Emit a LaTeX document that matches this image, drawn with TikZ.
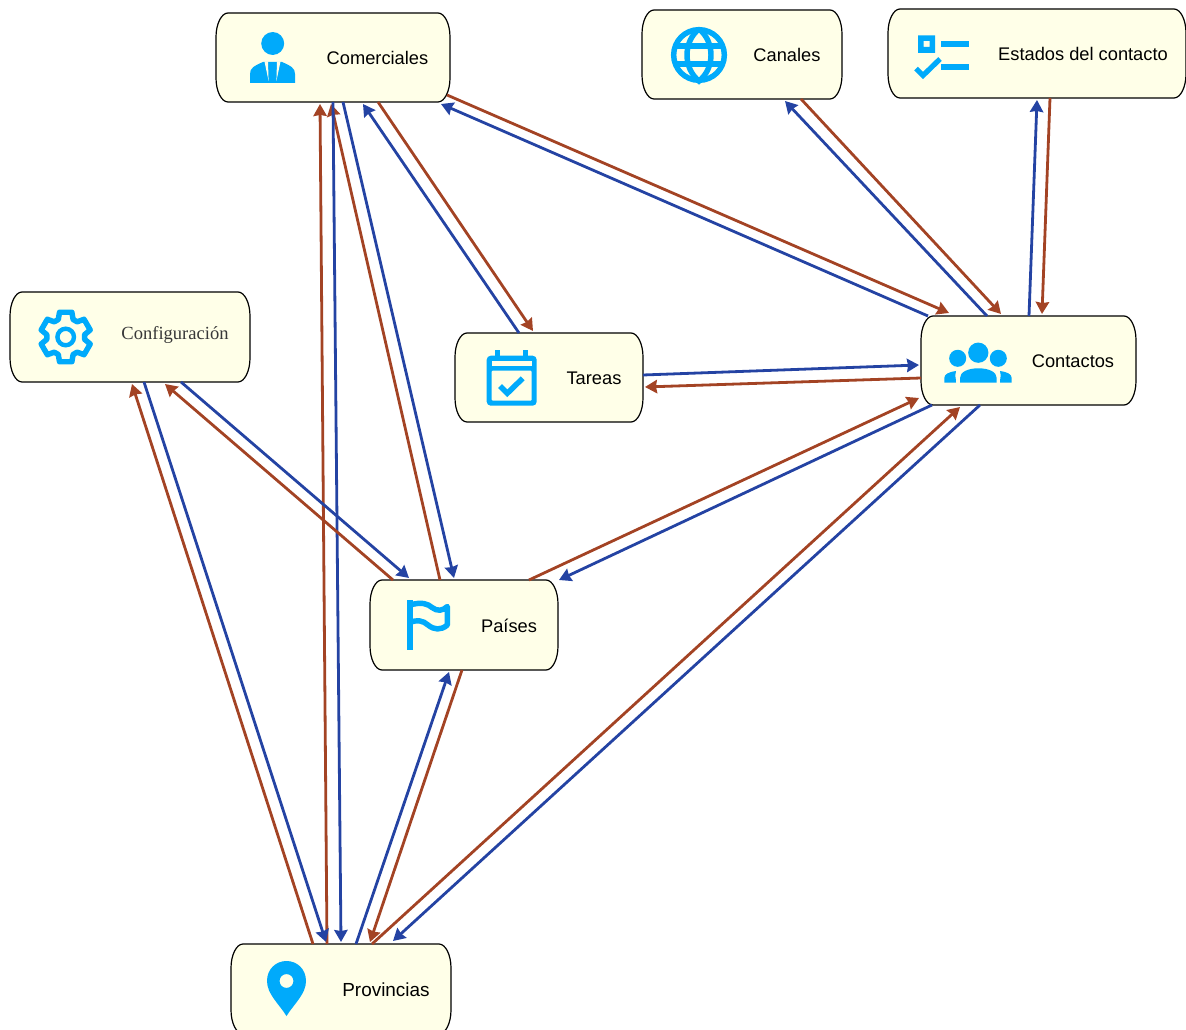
\documentclass[tikz,border=0pt]{standalone}
\usepackage{fontspec}
\setmainfont{Liberation Sans}
\newfontfamily\cfgfont{Liberation Serif}
\usetikzlibrary{arrows.meta,calc}
\definecolor{boxfill}{HTML}{FFFFE8}
\definecolor{iconc}{HTML}{00AAFB}
\definecolor{bluec}{HTML}{2443A3}
\definecolor{brownc}{HTML}{A34324}
\tikzset{
  boxanchor/.style={rectangle,draw=none,inner sep=0pt,outer sep=0pt},
  boxshape/.style={draw=black,fill=boxfill,line width=0.9pt},
  boxlabel/.style={inner sep=0pt,font=\fontsize{13.7}{16}\selectfont,text=black},
  conn/.style={line width=2.1pt,-{Stealth[length=9pt,width=10pt,inset=0.8pt]}},
  iconfill/.style={fill=iconc,draw=none},
  iconline/.style={draw=iconc,line width=4.1pt,fill=none}
}
\newcommand{\roundbox}[5]{%
  \node[boxanchor,minimum width={#4*0.75pt},minimum height={#5*0.75pt}] (#1) at ({#2+#4/2},{#3+#5/2}) {};
  \draw[boxshape] ({#2+12},#3) -- ({#2+#4-12},#3)
    .. controls ({#2+#4-5.4},#3) and ({#2+#4},{#3+11}) .. ({#2+#4},{#3+24})
    -- ({#2+#4},{#3+#5-24})
    .. controls ({#2+#4},{#3+#5-11}) and ({#2+#4-5.4},{#3+#5}) .. ({#2+#4-12},{#3+#5})
    -- ({#2+12},{#3+#5})
    .. controls ({#2+5.4},{#3+#5}) and (#2,{#3+#5-11}) .. (#2,{#3+#5-24})
    -- (#2,{#3+24})
    .. controls (#2,{#3+11}) and ({#2+5.4},#3) .. ({#2+12},#3) -- cycle;
}
\newcommand{\conn}[7]{%
  \draw[conn,draw=#1,fill=#1] ($(#2.north west)+(#3,#4)$) -- ($(#5.north west)+(#6,#7)$);
}
\begin{document}
\begin{tikzpicture}[x=0.75pt,y=-0.75pt]
\useasboundingbox (0,0) rectangle (1186,1030);
\clip (0,0) rectangle (1186,1030);

% boxes
\roundbox{com}{216}{13}{234}{89}
\roundbox{can}{642}{10}{200}{89}
\roundbox{est}{888}{9}{298}{89}
\roundbox{cfg}{10}{292}{240}{90}
\roundbox{tar}{455}{333}{188}{89}
\roundbox{con}{921}{316}{215}{89}
\roundbox{pai}{370}{580}{188}{90}
\roundbox{pro}{231}{944}{220}{90}

% labels
\node[boxlabel] (comT) at (377.5,58) {Comerciales};
\node[boxlabel] (canT) at (787,55) {Canales};
\node[boxlabel] (estT) at (1083,54) {Estados del contacto};
\node[boxlabel,font=\cfgfont\fontsize{13.9}{16}\selectfont,text=black!78] (cfgT) at (175,335) {Configuración};
\node[boxlabel] (tarT) at (594,378) {Tareas};
\node[boxlabel] (conT) at (1073,361) {Contactos};
\node[boxlabel] (paiT) at (509,626) {Países};
\node[boxlabel,font=\fontsize{14.2}{16}\selectfont] (proT) at (386,989.5) {Provincias};

% connectors
\conn{brownc}{com}{231}{82}{con}{28}{-3}
\conn{bluec}{con}{7}{0}{com}{225}{91}
\conn{brownc}{com}{162}{89}{tar}{78}{-2}
\conn{bluec}{tar}{64}{0}{com}{147}{91}
\conn{bluec}{com}{127}{89}{pai}{84}{-2}
\conn{brownc}{pai}{70}{0}{com}{115}{91}
\conn{brownc}{pro}{96}{0}{com}{104}{91}
\conn{bluec}{com}{117}{89}{pro}{110}{-2}
\conn{bluec}{cfg}{134}{90}{pro}{95}{-2}
\conn{brownc}{pro}{82}{0}{cfg}{122}{92}
\conn{bluec}{cfg}{171}{90}{pai}{39}{-2}
\conn{brownc}{pai}{23}{0}{cfg}{155}{92}
\conn{bluec}{pro}{125}{0}{pai}{79}{92}
\conn{brownc}{pai}{92}{90}{pro}{139}{-2}
\conn{brownc}{pai}{159}{0}{con}{-2}{82}
\conn{bluec}{con}{11}{89}{pai}{189}{0}
\conn{bluec}{con}{59}{89}{pro}{162}{-3}
\conn{brownc}{pro}{141}{0}{con}{39}{91}
\conn{bluec}{tar}{188}{42}{con}{-2}{49}
\conn{brownc}{con}{0}{62}{tar}{190}{54}
\conn{bluec}{con}{66}{0}{can}{143}{91}
\conn{brownc}{can}{159}{89}{con}{80}{-2}
\conn{bluec}{con}{108}{0}{est}{149}{91}
\conn{brownc}{est}{162}{89}{con}{121}{-2}

% icon: person
\fill[iconfill] (272.7,43.5) circle[radius=8.6pt];
\fill[iconfill] (250,83) -- (250,74) .. controls (250,68) and (254,66) .. (263,62)
  -- (282,62) .. controls (291,66) and (295,68) .. (295,74) -- (295,83) -- cycle;
\fill[boxfill] (264.5,61.5) -- (268,61.5) -- (268.6,81) -- cycle;
\fill[boxfill] (280.5,61.5) -- (277,61.5) -- (276.4,81) -- cycle;

% icon: globe
\draw[iconline] (699,55) circle[radius=19pt];
\draw[iconline] (699,29) .. controls (683,42) and (683,68) .. (699,81)
  .. controls (715,68) and (715,42) .. (699,29);
\draw[iconline] (674,46) -- (724,46);
\draw[iconline] (674,64) -- (724,64);

% icon: checklist
\fill[iconfill,even odd rule] (918,35.5) rectangle (935,53) (923.5,41) rectangle (929.5,47);
\fill[iconfill] (941,41) rectangle (969,47);
\fill[iconfill] (941,64.5) rectangle (969,70);
\draw[iconline,line width=3.9pt] (916,68.5) -- (923,75.5) -- (940,59);

% icon: gear
\begin{scope}[shift={(65.7,337)}]
\draw[iconline,line join=round] (76:25.5) \foreach \a in {90,150,...,390} { -- (\a-14:25.5) -- (\a+14:25.5) -- (\a+23:19) -- (\a+37:19) } -- cycle;
\draw[iconline,line width=3.3pt] (0,0) circle[radius=6.2pt];
\end{scope}

% icon: calendar
\fill[iconfill,rounded corners=3pt] (486.7,355.7) rectangle (536.7,405.7);
\fill[boxfill] (491.7,361) rectangle (531.7,365.7);
\fill[boxfill,rounded corners=0.8pt] (491.7,370.7) rectangle (531.7,400.7);
\fill[iconfill] (495,350) rectangle (500,356);
\fill[iconfill] (522.7,350) rectangle (528,356);
\draw[iconline] (500,386) -- (507.3,393.3) -- (522.7,378.3);

% icon: people
\fill[iconfill] (957.7,358.3) circle[radius=6.4pt];
\fill[iconfill] (998.3,358.3) circle[radius=6.4pt];
\fill[boxfill] (978.3,352.7) circle[radius=9pt];
\fill[iconfill] (978.3,352.7) circle[radius=7.6pt];
\fill[iconfill] (960,382.7) -- (960,378) .. controls (960,372) and (968,368.3) .. (978.3,368.3)
  .. controls (989,368.3) and (996.7,372) .. (996.7,378) -- (996.7,382.7) -- cycle;
\fill[iconfill] (944.3,382.7) -- (944.3,378) .. controls (944.3,374) and (949,372) .. (956,371)
  .. controls (954,374) and (956,376) .. (956,382.7) -- cycle;
\fill[iconfill] (1011.7,382.7) -- (1011.7,378) .. controls (1011.7,374) and (1007,372) .. (1000,371)
  .. controls (1002,374) and (1000,376) .. (1000,382.7) -- cycle;

% icon: flag
\draw[iconline,line width=4.6pt] (409.7,600) -- (409.7,650);
\draw[iconline,line join=round] (410,605) .. controls (422,601.5) and (428,604) .. (432,607.5)
  .. controls (437,611.5) and (443,611) .. (447.3,606.5) -- (447.3,625)
  .. controls (441,630.5) and (434,630) .. (428,625)
  .. controls (423,620.5) and (417,619.5) .. (410,622.5);

% icon: pin
\fill[iconfill,even odd rule] (286.5,1016) .. controls (279,1004) and (267,994) .. (267,981)
  .. controls (267,969) and (276,961) .. (286.5,961)
  .. controls (297,961) and (306,969) .. (306,981)
  .. controls (306,994) and (294,1004) .. (286.5,1016) -- cycle
  (286.5,981) circle[radius=5.2pt];
\end{tikzpicture}
\end{document}
